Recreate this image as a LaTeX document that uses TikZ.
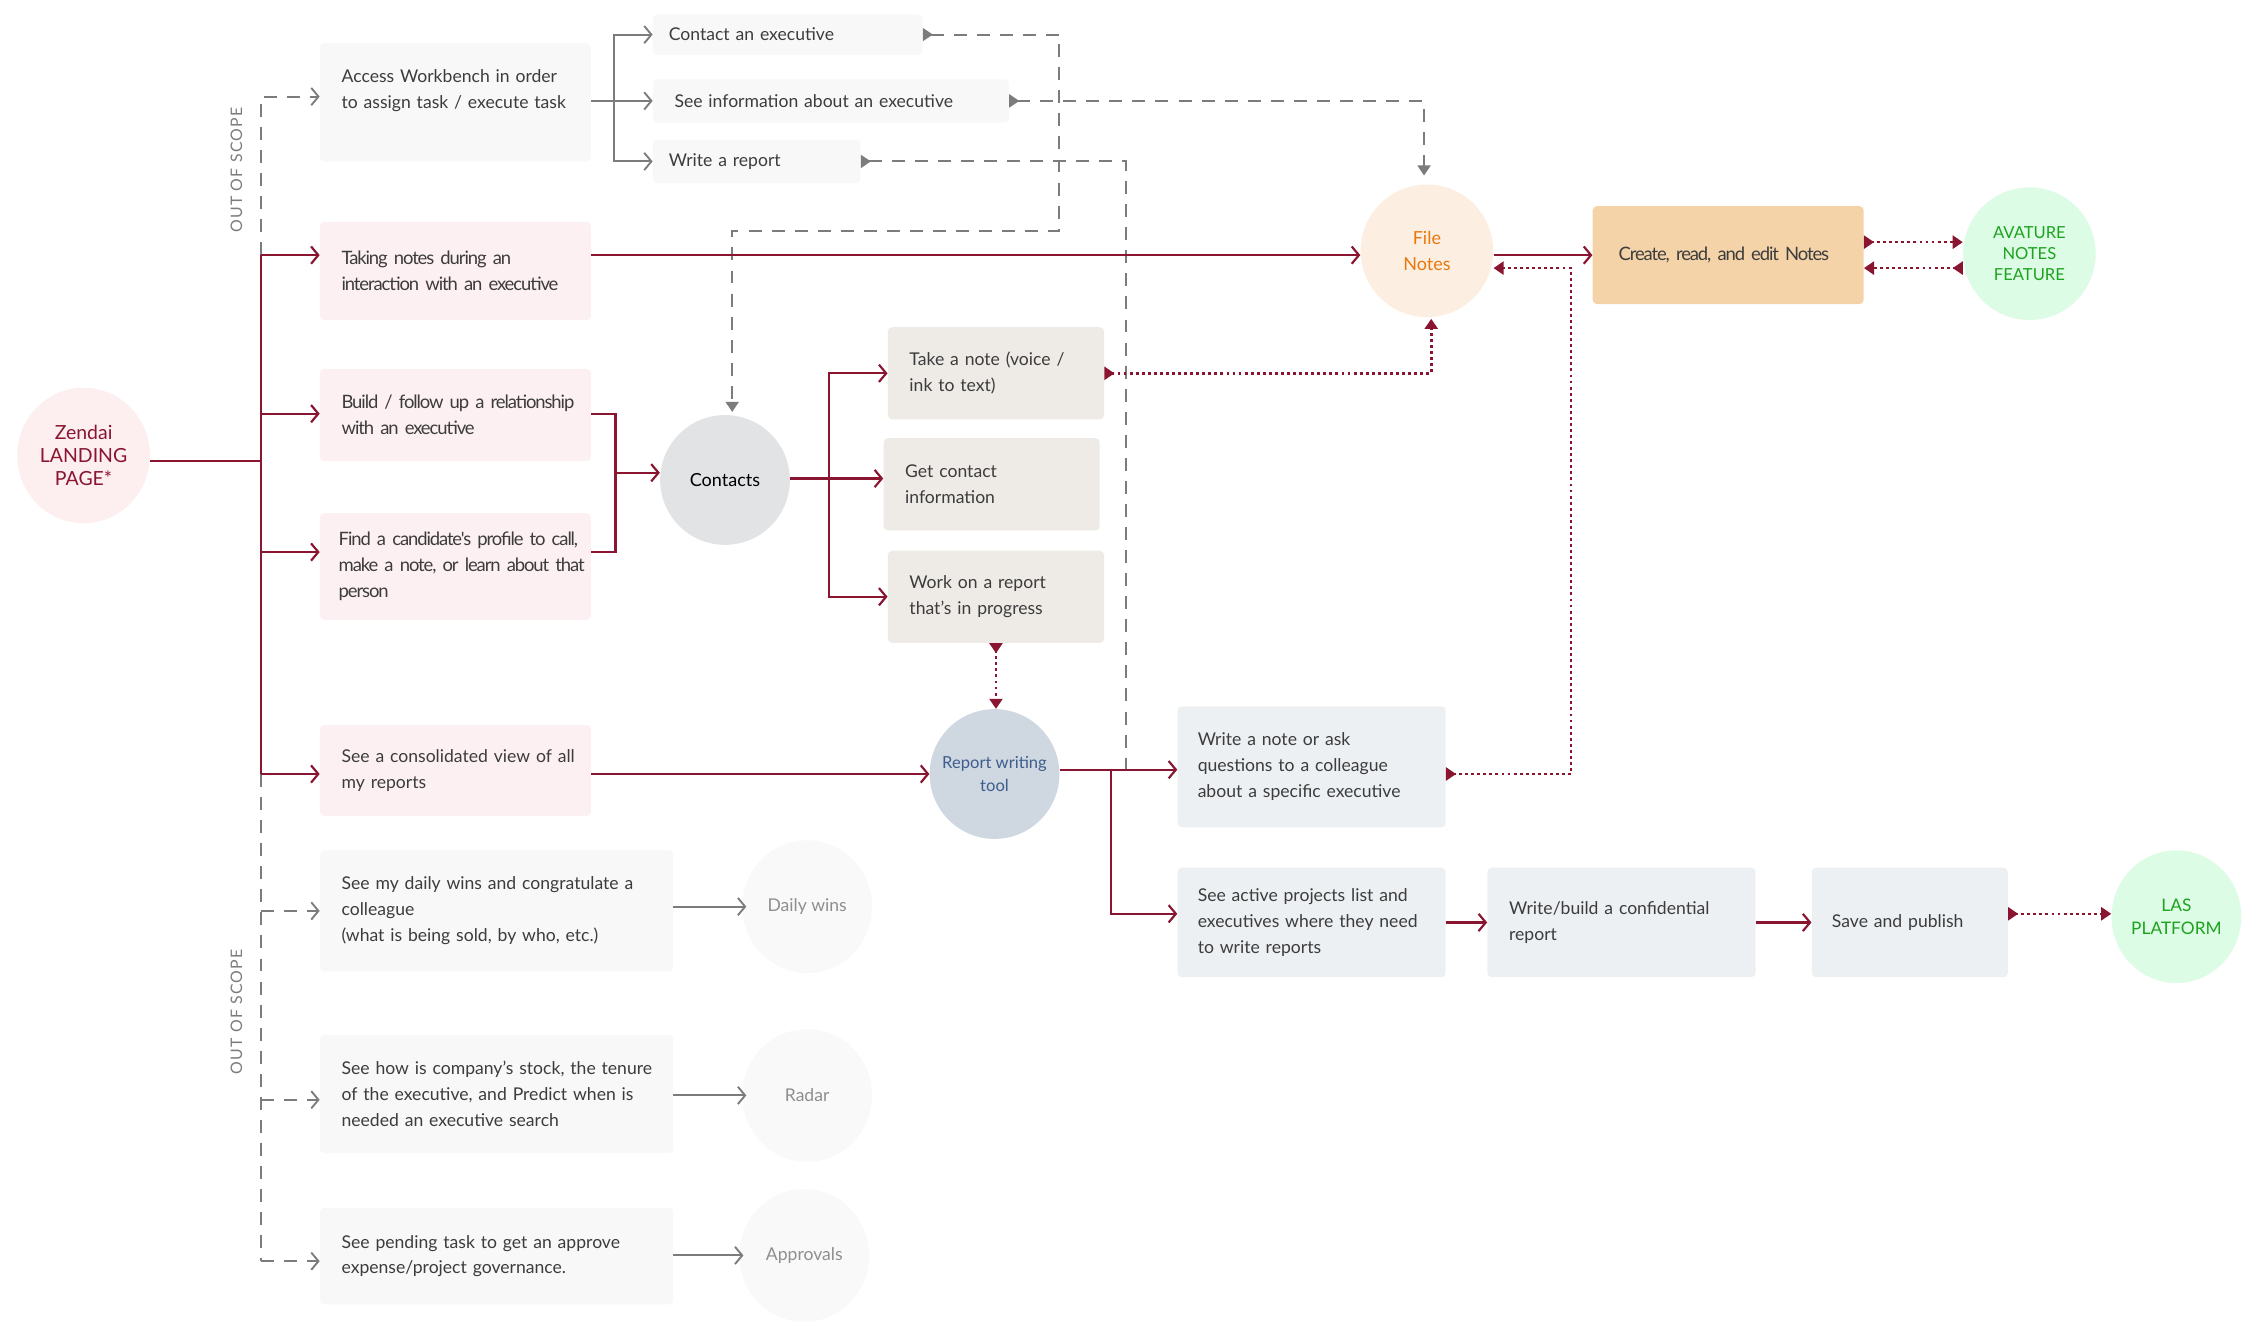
\documentclass[tikz,border=0pt]{standalone}
\usepackage{fontspec}
\setmainfont{Lato}
\newfontfamily\pkfam[LetterSpace=-6,WordSpace=0.8]{Lato}
\usetikzlibrary{arrows.meta,shapes.geometric}
\definecolor{crim}{HTML}{8A1530}
\definecolor{greyc}{HTML}{7C7C7E}
\definecolor{txt}{HTML}{3C3C3C}
\definecolor{pinkbox}{HTML}{FDF0F2}
\definecolor{oosbox}{HTML}{F8F8F8}
\definecolor{warmbox}{HTML}{EEEBE7}
\definecolor{bluebox}{HTML}{EDF0F3}
\definecolor{tanbox}{HTML}{F4D3A8}
\definecolor{zendaic}{HTML}{FDEEF0}
\definecolor{contc}{HTML}{E2E3E5}
\definecolor{rwtc}{HTML}{CFD7E1}
\definecolor{rwtt}{HTML}{3D5E8C}
\definecolor{filec}{HTML}{FCEFE1}
\definecolor{filet}{HTML}{E8780E}
\definecolor{greenc}{HTML}{DDFCE6}
\definecolor{greent}{HTML}{1DA31D}
\definecolor{faintc}{HTML}{F9F9F9}
\definecolor{fainttxt}{HTML}{8E8E8E}
\newcommand\bxfont{\fontsize{12.2}{18}\selectfont}
\newcommand\pkfont{\pkfam\fontsize{12.8}{18}\selectfont}
\newcommand\oneline[1]{\mbox{#1}}
\begin{document}
\begin{tikzpicture}[x=1pt,y=-1pt,
  box/.style={rectangle, rounded corners=3pt, inner xsep=15pt, inner ysep=0pt, align=left, font=\bxfont, text=txt},
  pk/.style={font=\pkfont},
  circ/.style={ellipse, inner sep=-8pt, align=center},
  redline/.style={crim, line width=1.5pt},
  redarr/.style={crim, line width=1.5pt, -{Straight Barb[length=5pt,width=12pt]}},
  greyarr/.style={greyc, line width=1.3pt, -{Straight Barb[length=5pt,width=12pt]}},
  greydash/.style={greyc, line width=1.3pt, dash pattern=on 9pt off 7pt},
  greydasharr/.style={greydash, -{Straight Barb[length=5pt,width=12pt]}},
  greytri/.style={greydash, {Triangle[reversed,length=7pt,width=9pt]}-{Triangle[length=7pt,width=9pt]}},
  greytristart/.style={greydash, {Triangle[reversed,length=7pt,width=9pt]}-},
  reddot/.style={crim, line width=1.8pt, dash pattern=on 2pt off 2.2pt, {Triangle[reversed,length=7pt,width=9pt]}-{Triangle[length=7pt,width=9pt]}},
  oos/.style={rotate=90, font=\fontsize{11}{12}\selectfont\addfontfeature{LetterSpace=8}, text=greyc}
]
\useasboundingbox (0,0) rectangle (1568,930);
\fill[white] (0,0) rectangle (1568,930);

% ---------- nodes ----------
\node[circ, fill=zendaic, minimum width=92pt, minimum height=94pt, text=crim, font=\fontsize{13.5}{16}\selectfont] (zendai) at (58,316) {Zendai\\LANDING\\PAGE*};

\node[box, fill=oosbox, text width=158pt, minimum height=82pt] (access) at (316,71) {\oneline{Access Workbench in order}\\\oneline{to assign task / execute task}\\\mbox{}};
\node[box, pk, fill=pinkbox, text width=158pt, minimum height=68pt] (taking) at (316,188) {\oneline{Taking notes during an}\\\oneline{interaction with an executive}};
\node[box, pk, fill=pinkbox, text width=158pt, minimum height=64pt] (build) at (316,288) {\oneline{Build / follow up a relationship}\\\oneline{with an executive}};
\node[box, pk, fill=pinkbox, inner xsep=13pt, text width=162pt, minimum height=74pt] (find) at (316,393) {\oneline{Find a candidate's profile to call,}\\\oneline{make a note, or learn about that}\\person};
\node[box, fill=pinkbox, text width=158pt, minimum height=63pt] (consol) at (316,534.5) {\oneline{See a consolidated view of all}\\my reports};
\node[box, fill=oosbox, text width=215pt, minimum height=84pt] (daily) at (344.5,632) {\oneline{See my daily wins and congratulate a}\\colleague\\\oneline{(what is being sold, by who, etc.)}};
\node[box, fill=oosbox, text width=215pt, minimum height=82pt] (stock) at (344.5,759) {\oneline{See how is company's stock, the tenure}\\\oneline{of the executive, and Predict when is}\\\oneline{needed an executive search}};
\node[box, fill=oosbox, text width=215pt, minimum height=67pt] (pending) at (344.5,871.5) {\oneline{See pending task to get an approve}\\\oneline{expense/project governance.}};

\node[circ, fill=faintc, minimum width=90pt, minimum height=92pt, text=fainttxt, font=\bxfont] (cdaily) at (560,629) {Daily wins};
\node[circ, fill=faintc, minimum width=90pt, minimum height=92pt, text=fainttxt, font=\bxfont] (cradar) at (560,760) {Radar};
\node[circ, fill=faintc, minimum width=90pt, minimum height=92pt, text=fainttxt, font=\bxfont] (cappr) at (558,871) {Approvals};

\node[box, fill=oosbox, inner xsep=11pt, text width=165pt, minimum height=28pt] (contactexec) at (546.5,24) {Contact an executive};
\node[box, fill=oosbox, text width=217pt, minimum height=30pt] (seeinfo) at (576.5,70) {\oneline{See information about an executive}};
\node[box, fill=oosbox, inner xsep=11pt, text width=122pt, minimum height=30pt] (writerep) at (525,112) {Write a report};

\node[circ, fill=contc, minimum width=90pt, minimum height=90pt, text=black, font=\fontsize{12.5}{15}\selectfont] (contacts) at (503,333) {Contacts};

\node[box, fill=warmbox, text width=120pt, minimum height=64pt] (takenote) at (691,259) {\oneline{Take a note (voice /}\\ink to text)};
\node[box, fill=warmbox, text width=120pt, minimum height=64pt] (getcontact) at (688,336) {Get contact\\information};
\node[box, fill=warmbox, text width=120pt, minimum height=64pt] (workrep) at (691,414) {Work on a report\\\oneline{that's in progress}};

\node[circ, fill=rwtc, minimum width=90pt, minimum height=90pt, text=rwtt, font=\fontsize{11.5}{16}\selectfont] (rwt) at (690,537) {Report writing\\tool};

\node[box, fill=bluebox, inner xsep=14pt, text width=158pt, minimum height=84pt] (writenote) at (910,532) {Write a note or ask\\\oneline{questions to a colleague}\\\oneline{about a specific executive}};
\node[box, fill=bluebox, inner xsep=14pt, text width=158pt, minimum height=76pt] (active) at (910,640) {\oneline{See active projects list and}\\\oneline{executives where they need}\\to write reports};
\node[box, fill=bluebox, text width=156pt, minimum height=76pt] (confid) at (1125,640) {\oneline{Write/build a confidential}\\report};
\node[box, fill=bluebox, inner xsep=14pt, text width=108pt, minimum height=76pt] (save) at (1325,640) {Save and publish};

\node[circ, fill=greenc, minimum width=90pt, minimum height=92pt, text=greent, font=\fontsize{12}{16}\selectfont] (las) at (1510,636) {LAS\\PLATFORM};

\node[circ, fill=filec, minimum width=92pt, minimum height=92pt, text=filet, font=\fontsize{12.5}{18}\selectfont] (filenotes) at (990,174) {File\\Notes};
\node[box, pk, fill=tanbox, inner xsep=18pt, text width=152pt, minimum height=68pt] (create) at (1199,177) {\oneline{Create, read, and edit Notes}};
\node[circ, fill=greenc, minimum width=92pt, minimum height=92pt, text=greent, font=\fontsize{11.5}{14.5}\selectfont] (avature) at (1408,176) {AVATURE\\NOTES\\FEATURE};

\node[oos] (oos1) at (164,118) {OUT OF SCOPE};
\node[oos] (oos2) at (164,702) {OUT OF SCOPE};

% ---------- coordinates ----------
\coordinate (jz) at (181,320);
\coordinate (tA) at (181,177);
\coordinate (tB) at (181,287);
\coordinate (tC) at (181,383);
\coordinate (tD) at (181,537);
\coordinate (gTop) at (181,67);
\coordinate (gE) at (181,632);
\coordinate (gF) at (181,763);
\coordinate (gG) at (181,875);
\coordinate (ja) at (426,70);
\coordinate (c1) at (735,24);
\coordinate (c2) at (735,160);
\coordinate (c3) at (508,160);
\coordinate (s1) at (988,70);
\coordinate (w1) at (781,112);
\coordinate (w2) at (781,534);
\coordinate (b1) at (427,287);
\coordinate (b2) at (427,383);
\coordinate (b3) at (427,328);
\coordinate (k0) at (575,332);
\coordinate (n1) at (993,259);
\coordinate (r1) at (771,534);
\coordinate (r2) at (771,634);
\coordinate (m1) at (1090,537);
\coordinate (m2) at (1090,186);
\coordinate (ya) at (0,168);
\coordinate (yb) at (0,186);
\coordinate (yl) at (0,634);

% ---------- grey (out of scope) ----------
\draw[greydasharr] (tA) -- (gTop) -- (gTop -| access.west);
\draw[greydash] (tD) -- (gG);
\draw[greydasharr] (gE) -- (gE -| daily.west);
\draw[greydasharr] (gF) -- (gF -| stock.west);
\draw[greydasharr] (gG) -- (gG -| pending.west);

\draw[greyarr] (daily.east |- cdaily) -- ([xshift=3pt]cdaily.west);
\draw[greyarr] (stock.east |- cradar) -- ([xshift=3pt]cradar.west);
\draw[greyarr] (pending.east |- cappr) -- ([xshift=3pt]cappr.west);

\draw[greyarr] (access.east |- ja) -- (seeinfo.west |- ja);
\draw[greyarr] (ja) |- (contactexec.west);
\draw[greyarr] (ja) |- (writerep.west);

\draw[greytri, shorten >=2pt] (contactexec.east) -- (c1) -- (c2) -- (c3) -- (c3 |- contacts.north);
\draw[greytri, shorten >=6pt] (seeinfo.east |- s1) -- (s1) -- (s1 |- filenotes.north);
\draw[greytristart] (writerep.east) -- (w1) -- (w2);

% ---------- red main flow ----------
\draw[redline] (zendai.east |- jz) -- (jz);
\draw[redline] (tA) -- (tD);
\draw[redarr] (tA) -- (tA -| taking.west);
\draw[redarr] (tB) -- (tB -| build.west);
\draw[redarr] (tC) -- (tC -| find.west);
\draw[redarr] (tD) -- (tD -| consol.west);

\draw[redarr] (taking.east |- tA) -- (filenotes.west |- tA);
\draw[redarr] (filenotes.east |- tA) -- (create.west |- tA);

\draw[redline] (build.east |- b1) -- (b1) -- (b2) -- (find.east |- b2);
\draw[redarr] (b3) -- (b3 -| contacts.west);

\draw[redline] (contacts.east |- k0) -- (k0);
\draw[redarr] (k0) -- (k0 -| getcontact.west);
\draw[redarr] (k0) |- (takenote.west);
\draw[redarr] (k0) |- (workrep.west);

\draw[redarr] (consol.east |- tD) -- (rwt.west |- tD);
\draw[redarr] (rwt.east |- r1) -- (writenote.west |- r1);
\draw[redarr] (r1) -- (r2) -- (active.west |- r2);
\draw[redarr] (active.east) -- (confid.west);
\draw[redarr] (confid.east) -- (save.west);

% ---------- red dotted ----------
\draw[reddot, shorten >=1pt] (takenote.east) -- (n1) -- (n1 |- filenotes.south);
\draw[reddot] (workrep.south) -- (workrep.south |- rwt.north);
\draw[reddot] (writenote.east |- m1) -- (m1) -- (m2) -- (m2 -| filenotes.east);
\draw[reddot] (create.east |- ya) -- (avature.west |- ya);
\draw[reddot] (avature.west |- yb) -- (create.east |- yb);
\draw[reddot] (save.east |- yl) -- (las.west |- yl);
\end{tikzpicture}
\end{document}
